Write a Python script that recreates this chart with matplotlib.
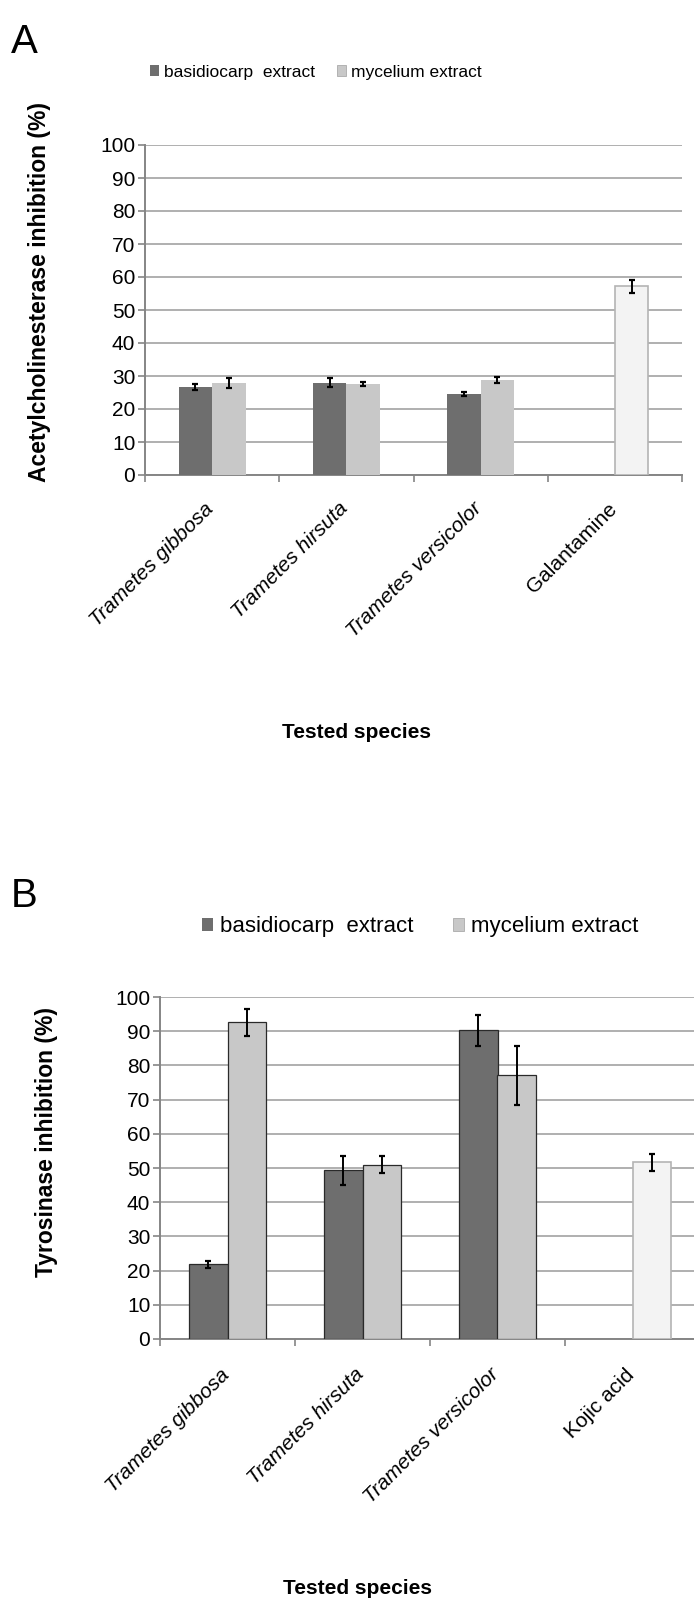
import matplotlib
matplotlib.use("Agg")
import matplotlib.pyplot as plt
import matplotlib.transforms as mtransforms
from matplotlib.patches import Patch
import numpy as np

plt.rcParams['font.family'] = ['Liberation Sans', 'DejaVu Sans']

# ---------------- data ----------------
species = ["Trametes gibbosa", "Trametes hirsuta", "Trametes versicolor"]
legend_labels = ["basidiocarp  extract", "mycelium extract"]

# Panel A: acetylcholinesterase inhibition (%)
ache_basidiocarp = [26.7, 28.0, 24.5]
ache_basidiocarp_err = [0.8, 1.3, 0.6]
ache_mycelium = [27.9, 27.6, 28.8]
ache_mycelium_err = [1.4, 0.5, 0.9]
ache_control_name = "Galantamine"
ache_control = 57.2
ache_control_err = 2.0

# Panel B: tyrosinase inhibition (%)
tyr_basidiocarp = [21.9, 49.3, 90.3]
tyr_basidiocarp_err = [1.0, 4.2, 4.5]
tyr_mycelium = [92.6, 50.9, 77.1]
tyr_mycelium_err = [4.0, 2.5, 8.7]
tyr_control_name = "Kojic acid"
tyr_control = 51.7
tyr_control_err = 2.5

yticks = [0, 10, 20, 30, 40, 50, 60, 70, 80, 90, 100]

# ---------------- style ----------------
DARK = "#6e6e6e"
LIGHT = "#c8c8c8"
CTRL = "#f3f3f3"
GRID = "#a9a9a9"
AXC = "#858585"

W, H = 694, 1604
fig = plt.figure(figsize=(W / 100, H / 100), dpi=100)


def box(x0, x1, ytop, ybot):
    return [x0 / W, 1 - ybot / H, (x1 - x0) / W, (ybot - ytop) / H]


def panel(ax, bas, bas_err, myc, myc_err, cname, cval, cerr, width, edge_dark, edge_light, elw,
          xlab_size, xlab_drop, xlab_shift):
    n = len(bas)
    x = np.arange(n)
    ax.bar(x - width / 2, bas, width, color=DARK, edgecolor=edge_dark, linewidth=elw, zorder=3)
    ax.bar(x + width / 2, myc, width, color=LIGHT, edgecolor=edge_light, linewidth=elw, zorder=3)
    ax.bar([n + width / 2], [cval], width, color=CTRL, edgecolor="#b4b4b4", linewidth=1.2, zorder=3)
    kw = dict(fmt="none", ecolor="black", elinewidth=1.4, capsize=2.2, capthick=1.6, zorder=4)
    ax.errorbar(x - width / 2, bas, yerr=bas_err, **kw)
    ax.errorbar(x + width / 2, myc, yerr=myc_err, **kw)
    ax.errorbar([n + width / 2], [cval], yerr=[cerr], **kw)

    ax.set_xlim(-0.5, n + 0.5)
    ax.set_ylim(0, 100)
    ax.set_yticks(yticks)
    ax.tick_params(axis="y", direction="out", length=5, width=1.2, color=AXC,
                   labelsize=15, pad=2)
    ax.yaxis.grid(True, color=GRID, linewidth=1.3, zorder=0)
    ax.set_axisbelow(True)

    ax.set_xticks(np.arange(-0.5, n + 1.0, 1.0))
    ax.set_xticklabels([])
    ax.tick_params(axis="x", which="major", direction="out", length=5, width=1.2, color=AXC)

    # category labels, rotated 45 degrees, anchored at their upper right end
    offset = mtransforms.ScaledTranslation(xlab_shift / 100, -xlab_drop / 100, fig.dpi_scale_trans)
    trans = ax.get_xaxis_transform() + offset
    for i, name in enumerate(species + [cname]):
        ax.text(i, 0, name, transform=trans, rotation=45, ha="right", va="top",
                rotation_mode="anchor", fontsize=xlab_size,
                fontstyle="italic" if i < n else "normal", clip_on=False)

    for s in ["top", "right"]:
        ax.spines[s].set_visible(False)
    for s in ["left", "bottom"]:
        ax.spines[s].set_color(AXC)
        ax.spines[s].set_linewidth(1.4)


# Panel A
axA = fig.add_axes(box(145, 682, 145, 475))
panel(axA, ache_basidiocarp, ache_basidiocarp_err, ache_mycelium, ache_mycelium_err,
      ache_control_name, ache_control, ache_control_err, 0.25, DARK, LIGHT, 0, 15, 24, -8)

# Panel B
axB = fig.add_axes(box(160, 700, 997, 1339))
panel(axB, tyr_basidiocarp, tyr_basidiocarp_err, tyr_mycelium, tyr_mycelium_err,
      tyr_control_name, tyr_control, tyr_control_err, 0.286, "#2a2a2a", "#2a2a2a", 0.9, 15, 26, -8)

# Axis titles
fig.text(40 / W, 1 - 292 / H, "Acetylcholinesterase inhibition (%)", rotation=90,
         ha="center", va="center", fontsize=16.5, fontweight="bold")
fig.text(47 / W, 1 - 1142 / H, "Tyrosinase inhibition (%)", rotation=90,
         ha="center", va="center", fontsize=16.5, fontweight="bold")
fig.text(356 / W, 1 - 733 / H, "Tested species", ha="center", va="center",
         fontsize=15, fontweight="bold")
fig.text(358 / W, 1 - 1588 / H, "Tested species", ha="center", va="center",
         fontsize=15, fontweight="bold")

# Panel letters
fig.text(11 / W, 1 - 42 / H, "A", ha="left", va="center", fontsize=29)
fig.text(11 / W, 1 - 896 / H, "B", ha="left", va="center", fontsize=29)

# Legends
handles = [Patch(facecolor=DARK, edgecolor="none"),
           Patch(facecolor=LIGHT, edgecolor="#aaaaaa", linewidth=0.6)]
fig.legend(handles, legend_labels, loc="center", bbox_to_anchor=(316 / W, 1 - 72 / H),
           ncol=2, frameon=False, fontsize=12.5, handlelength=0.5, handleheight=0.55,
           handletextpad=0.3, columnspacing=1.3)
fig.legend(handles, legend_labels, loc="center", bbox_to_anchor=(420 / W, 1 - 927 / H),
           ncol=2, frameon=False, fontsize=16, handlelength=0.5, handleheight=0.5,
           handletextpad=0.3, columnspacing=1.8)

fig.savefig("out.png", dpi=100)
